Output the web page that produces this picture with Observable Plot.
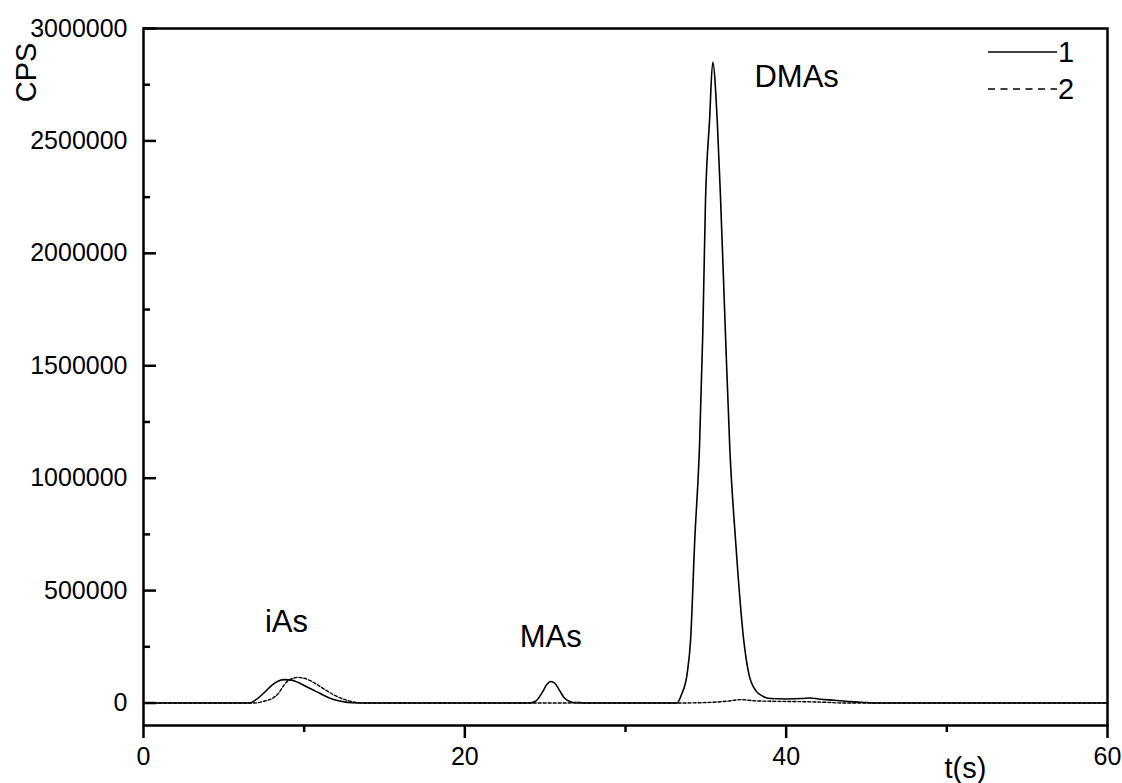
<!DOCTYPE html>
<html><head><meta charset="utf-8">
<script src="https://cdn.jsdelivr.net/npm/d3@7"></script>
<script src="https://cdn.jsdelivr.net/npm/@observablehq/plot@0.6"></script>
<style>body{margin:0;background:#fff;} svg{display:block;}</style>
</head><body><div id="chart"></div>
<script>
// Series 1 (solid): time (s) and CPS
const t1 = [0, 6.6, 7.0, 7.5, 8.0, 8.4, 8.8, 9.2, 9.6, 10.0, 10.5, 11.0, 11.5, 12.0, 12.5, 13.0, 13.5,
  24.0, 24.4, 24.8, 25.1, 25.35, 25.6, 25.9, 26.2, 26.6, 27.0,
  33.2, 33.5, 33.84, 34.05, 34.31, 34.61, 34.81, 34.98, 35.23, 35.43, 35.71, 35.92, 36.22, 36.5, 36.85, 37.36, 37.67, 38.1, 38.6, 39.0,
  40.0, 41.0, 41.5, 42.0, 43.0, 44.0, 45.0, 45.5, 60];
const v1 = [0, 0, 15000, 45000, 80000, 98000, 104000, 102000, 92000, 78000, 60000, 42000, 25000, 12000, 5000, 1500, 0,
  0, 8000, 45000, 82000, 96000, 88000, 55000, 22000, 5000, 0,
  0, 40000, 132000, 279000, 724000, 1150000, 1645000, 2236000, 2590000, 2850000, 2590000, 2236000, 1645000, 1120000, 724000, 279000, 132000, 56000, 28000, 20000,
  18000, 20000, 22000, 18000, 12000, 6000, 2000, 0, 0];
// Series 2 (dashed)
const t2 = [0, 6.9, 7.5, 8.0, 8.4, 8.7, 9.0, 9.3, 9.6, 10.0, 10.5, 10.8, 11.4, 11.9, 12.5, 13.0, 13.5, 14.0,
  26.5, 27.0, 27.5, 33.0, 35.0, 36.3, 37.2, 38.0, 39.0, 41.0, 42.5, 43.5, 60];
const v2 = [0, 0, 8000, 20000, 43000, 75000, 100000, 110000, 114000, 110000, 95000, 82000, 55000, 34000, 16000, 6000, 1000, 0,
  0, 4000, 0, 0, 2000, 8000, 15000, 10000, 8000, 6000, 3000, 0, 0];

const xMajorTicks = [0, 20, 40, 60];
const xMinorTicks = [10, 30, 50];
const yMajorTicks = [0, 500000, 1000000, 1500000, 2000000, 2500000, 3000000];
const yMinorTicks = [250000, 750000, 1250000, 1750000, 2250000, 2750000];

const peakLabels = ["iAs", "MAs", "DMAs"];
const peakLabelT = [8.9, 25.35, 40.65];
const peakLabelV = [359000, 292000, 2783000];

const seriesNames = ["1", "2"];
const xLabel = "t(s)";
const yLabel = "CPS";

const s1 = t1.map((t, i) => ({t, v: v1[i]}));
const s2 = t2.map((t, i) => ({t, v: v2[i]}));
const peaks = peakLabels.map((label, i) => ({label, t: peakLabelT[i], v: peakLabelV[i]}));
const fmt = d => String(d);

const chart = Plot.plot({
  width: 1122, height: 783,
  marginLeft: 143, marginRight: 15, marginTop: 28, marginBottom: 58,
  x: {domain: [0, 60]},
  y: {domain: [-100000, 3000000]},
  style: {fontFamily: "'Liberation Sans', Arial, sans-serif", fontSize: "25px", background: "white", color: "black"},
  marks: [
    Plot.axisY(yMajorTicks, {tickSize: -13, tickPadding: 29, strokeWidth: 2.5, tickFormat: fmt, label: null}),
    Plot.axisY(yMinorTicks, {tickSize: -7, strokeWidth: 2.5, tickFormat: () => "", label: null}),
    Plot.axisX(xMajorTicks, {tickSize: 13, tickPadding: 9, strokeWidth: 2.5, tickFormat: fmt, label: null}),
    Plot.axisX(xMinorTicks, {tickSize: 7, strokeWidth: 2.5, tickFormat: () => "", label: null}),
    Plot.line(s2, {x: "t", y: "v", stroke: "black", strokeWidth: 1.4, strokeDasharray: "3,2", curve: "monotone-x"}),
    Plot.line(s1, {x: "t", y: "v", stroke: "black", strokeWidth: 1.6, curve: "monotone-x"}),
    Plot.frame({stroke: "black", strokeWidth: 2.5}),
    Plot.text(peaks, {x: "t", y: "v", text: "label", fontSize: 31}),
    Plot.text([yLabel], {frameAnchor: "top-left", dx: -117, dy: 44, rotate: -90, fontSize: 29, textAnchor: "middle", lineAnchor: "middle"}),
    Plot.text([xLabel], {frameAnchor: "bottom-right", dx: -142, dy: 43, fontSize: 29, textAnchor: "middle", lineAnchor: "middle"})
  ]
});
document.getElementById("chart").appendChild(chart);

// Legend (top-right, inside the frame)
const svg = d3.select(chart);
const lg = svg.append("g").attr("font-family", "'Liberation Sans', Arial, sans-serif").attr("font-size", 29);
const dashes = [null, "7,5.5"];
seriesNames.forEach((name, i) => {
  const y = 52 + i * 37;
  lg.append("line").attr("x1", 988).attr("x2", 1057).attr("y1", y).attr("y2", y)
    .attr("stroke", "black").attr("stroke-width", 1.6).attr("stroke-dasharray", dashes[i]);
  lg.append("text").attr("x", 1066).attr("y", y).attr("dy", "0.35em").text(name);
});
</script>
</body></html>
